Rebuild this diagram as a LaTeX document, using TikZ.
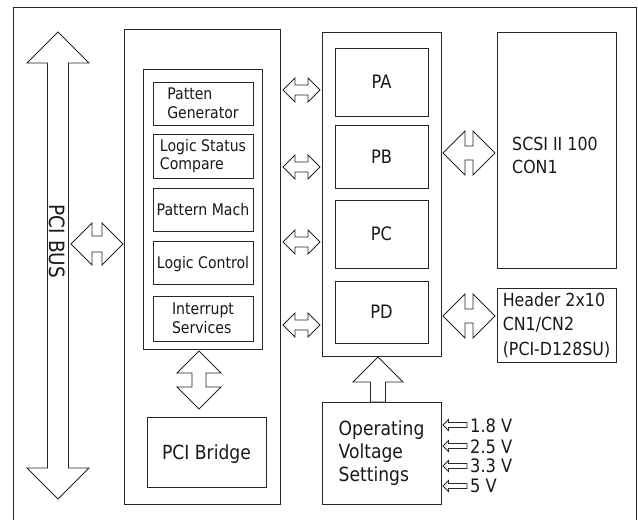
\documentclass[tikz,border=0pt]{standalone}
\usepackage{fontspec}
\setmainfont{DejaVu Sans}[FakeStretch=0.88]
\usetikzlibrary{calc}

% horizontal double block arrow: #1 left tip, #2 right tip, #3 head size, #4 shaft half width
\newcommand\hdbl[4]{\draw[blk] let \p1=(#1), \p2=(#2) in
 (\x1,\y1) -- (\x1+#3pt,\y1+#3pt) -- (\x1+#3pt,\y1+#4pt) -- (\x2-#3pt,\y1+#4pt) --
 (\x2-#3pt,\y1+#3pt) -- (\x2,\y1) -- (\x2-#3pt,\y1-#3pt) -- (\x2-#3pt,\y1-#4pt) --
 (\x1+#3pt,\y1-#4pt) -- (\x1+#3pt,\y1-#3pt) -- cycle;}
% vertical double block arrow: #1 top tip, #2 bottom tip
\newcommand\vdbl[4]{\draw[blk] let \p1=(#1), \p2=(#2) in
 (\x1,\y1) -- (\x1+#3pt,\y1-#3pt) -- (\x1+#4pt,\y1-#3pt) -- (\x1+#4pt,\y2+#3pt) --
 (\x1+#3pt,\y2+#3pt) -- (\x1,\y2) -- (\x1-#3pt,\y2+#3pt) -- (\x1-#4pt,\y2+#3pt) --
 (\x1-#4pt,\y1-#3pt) -- (\x1-#3pt,\y1-#3pt) -- cycle;}
% up block arrow: #1 tip, #2 base
\newcommand\uparr[4]{\draw[blk] let \p1=(#1), \p2=(#2) in
 (\x1,\y1) -- (\x1+#3pt,\y1-#3pt) -- (\x1+#4pt,\y1-#3pt) -- (\x1+#4pt,\y2) --
 (\x1-#4pt,\y2) -- (\x1-#4pt,\y1-#3pt) -- (\x1-#3pt,\y1-#3pt) -- cycle;}
% left block arrow: #1 tip, #2 tail end
\newcommand\larr[4]{\draw[blk] let \p1=(#1), \p2=(#2) in
 (\x1,\y1) -- (\x1+#3pt,\y1+#3pt) -- (\x1+#3pt,\y1+#4pt) -- (\x2,\y1+#4pt) --
 (\x2,\y1-#4pt) -- (\x1+#3pt,\y1-#4pt) -- (\x1+#3pt,\y1-#3pt) -- cycle;}

\begin{document}
\begin{tikzpicture}[x=1pt,y=-1pt,
  box/.style={draw=black!85, line width=0.9pt, inner sep=0pt},
  sz/.style n args={2}{minimum width=#1pt, minimum height=#2pt},
  blk/.style={draw=black!85, line width=0.8pt, fill=white, line join=miter},
  sub/.style={font=\fontsize{16}{18.5}\selectfont, align=left, text=black!90},
  port/.style={font=\fontsize{18.5}{22}\selectfont, text=black!90, text depth=0pt},
  big/.style={font=\fontsize{19.5}{23}\selectfont, text=black!90},
  rtxt/.style={font=\fontsize{18}{24.5}\selectfont, align=left, text=black!90},
  volt/.style={font=\fontsize{18.5}{22}\selectfont, text=black!90, inner sep=0pt, anchor=base west}]
\useasboundingbox (0,0) rectangle (638,520);
% outer frame (open at the bottom)
\draw[draw=black!85, line width=0.9pt] (13,521) -- (13,7) -- (636,7) -- (636,521);

% left block
\node[box, sz={156}{475}] (lbox) at (202,266.5) {};
\node[box, sz={119}{280}] (ibox) at (202.5,209) {};
\node[box, sub, sz={100}{43}] (pg) at (203,103.5) {Patten\\Generator};
\node[box, sub, sz={100}{44}] (ls) at (203,156) {Logic Status\\Compare};
\node[box, sub, text depth=0pt, sz={100}{43}] (pm) at (203,209.5) {Pattern Mach};
\node[box, sub, text depth=0pt, sz={100}{43}] (lc) at (203,262.5) {Logic Control};
\node[box, sub, sz={100}{45}] (is) at (203,318.5) {Interrupt\\Services};
\node[box, big, text depth=0pt, sz={119}{70}] (br) at (206.5,452) {PCI Bridge};

% middle block
\node[box, sz={119}{324}] (mbox) at (381.5,194) {};
\node[box, port, sz={93}{68}] (pa) at (381.5,82) {PA};
\node[box, port, sz={93}{63}] (pb) at (381.5,156.5) {PB};
\node[box, port, sz={93}{68}] (pc) at (381.5,234) {PC};
\node[box, port, sz={93}{62}] (pd) at (381.5,312) {PD};
\node[box, big, align=left, sz={119}{102}] (ov) at (381.5,453) {Operating\\Voltage\\Settings};

% right block
\node[box, sz={119}{236}] (scsi) at (556.5,150) {};
\node[rtxt, font=\fontsize{18}{23}\selectfont, inner sep=0pt, anchor=north west] (scsit) at (512,137) {SCSI II 100\\CON1};
\node[box, rtxt, sz={119}{74}] (hdr) at (556.5,325) {Header 2x10\\CN1/CN2\\(PCI-D128SU)};

% PCI bus
\coordinate (busT) at (58,32);
\coordinate (busB) at (58,499);
\vdbl{busT}{busB}{31}{10.5}
\node[rotate=-90, font=\fontsize{21}{24}\selectfont, text=black!90] (bus) at (57,241.5) {PCI BUS};

% bus to left block
\coordinate (b1) at (71,244);
\coordinate (b2) at (123,244);
\hdbl{b1}{b2}{21}{8}

% left block to ports
\foreach \yy/\nm in {90/a,167/b,242/c,325/d}{
  \coordinate (l\nm) at (283,\yy);
  \coordinate (r\nm) at (320,\yy);
  \hdbl{l\nm}{r\nm}{12}{5}
}

% inner block to PCI bridge
\coordinate (v1) at (199,351);
\coordinate (v2) at (199,409);
\vdbl{v1}{v2}{22}{7}

% ports to connectors
\coordinate (s1) at (443,153);
\coordinate (s2) at (495,153);
\hdbl{s1}{s2}{22}{7}
\coordinate (h1) at (443,316);
\coordinate (h2) at (495,316);
\hdbl{h1}{h2}{22}{7}

% voltage settings to ports
\coordinate (u1) at (378,357);
\coordinate (u2) at (378,402);
\uparr{u1}{u2}{25}{7.5}

% voltages
\foreach \yy/\bl/\txt/\nm in {425/432/1.8 V/p,446/453/2.5 V/q,466/472/3.3 V/r,486/492/5 V/s}{
  \coordinate (t\nm) at (443,\yy);
  \coordinate (e\nm) at (467,\yy);
  \larr{t\nm}{e\nm}{5.5}{2.5}
  \node[volt] (vt\nm) at (470,\bl) {\txt};
}
\end{tikzpicture}
\end{document}
